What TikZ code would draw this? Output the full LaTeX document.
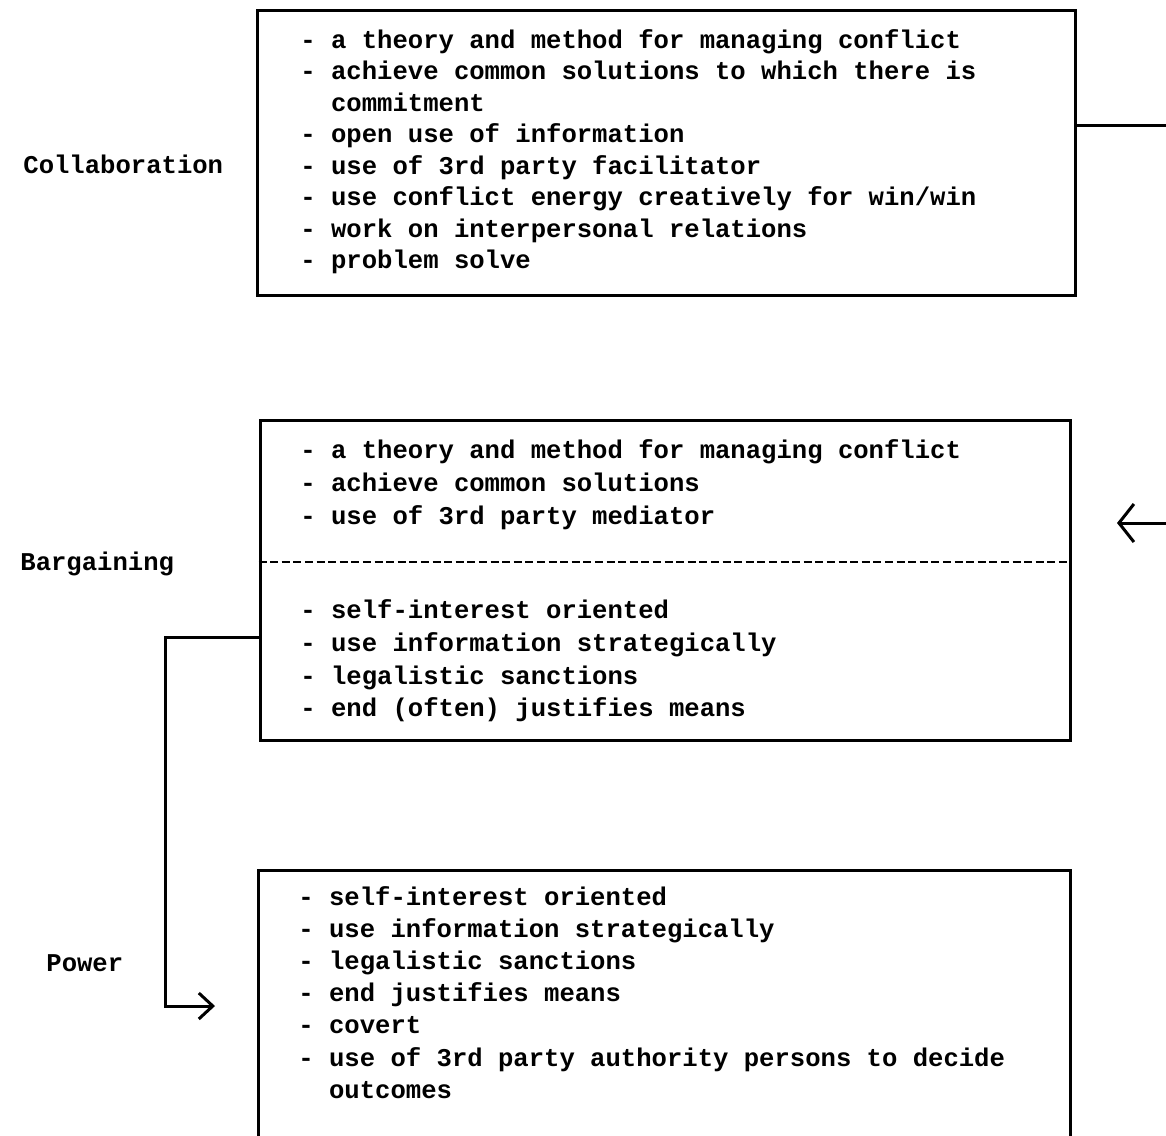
\documentclass[tikz,border=0pt]{standalone}
\usepackage{fontspec}
\setmainfont{Liberation Mono}
\usetikzlibrary{arrows.meta}
\begin{document}
\begin{tikzpicture}[x=0.5pt,y=-0.5pt,
  box/.style={draw, line width=1.5pt, rectangle, inner sep=0pt},
  conn/.style={line width=1.5pt},
  txt/.style={anchor=base west, inner sep=0pt, font=\bfseries\fontsize{12.8}{15}\selectfont},
  lbl/.style={anchor=base west, inner sep=0pt, font=\bfseries\fontsize{12.8}{15}\selectfont}]
\useasboundingbox[fill=white] (0,0) rectangle (1166,1135);

% boxes
\node[box, minimum width=409pt, minimum height=142.5pt] (b1) at (666,152.5) {};
\node[box, minimum width=405pt, minimum height=160pt] (b2) at (665,580) {};
\coordinate (b3nw) at (258,870);
\coordinate (b3ne) at (1070,870);
\coordinate (b3sw) at (258,1150);
\coordinate (b3se) at (1070,1150);
\draw[line width=1.5pt] (b3sw) -- (b3nw) -- (b3ne) -- (b3se);
\draw[line width=1pt, dash pattern=on 4pt off 1.8pt] (b2.west |- 0,562) -- (b2.east |- 0,562);

% labels
\node[lbl] (lc) at (23,173) {Collaboration};
\node[lbl] (lb) at (20,570) {Bargaining};
\node[lbl] (lp) at (46,971) {Power};

% box 1 text
\node[txt] (t11) at (300,48) {- a theory and method for managing conflict};
\node[txt] (t12) at (300,79.5) {- achieve common solutions to which there is};
\node[txt] (t13) at (300,111) {\ \ commitment};
\node[txt] (t14) at (300,142.5) {- open use of information};
\node[txt] (t15) at (300,174) {- use of 3rd party facilitator};
\node[txt] (t16) at (300,205.5) {- use conflict energy creatively for win/win};
\node[txt] (t17) at (300,237) {- work on interpersonal relations};
\node[txt] (t18) at (300,268.5) {- problem solve};

% box 2 text
\node[txt] (t21) at (300,458) {- a theory and method for managing conflict};
\node[txt] (t22) at (300,491) {- achieve common solutions};
\node[txt] (t23) at (300,524) {- use of 3rd party mediator};
\node[txt] (t24) at (300,618) {- self-interest oriented};
\node[txt] (t25) at (300,651) {- use information strategically};
\node[txt] (t26) at (300,684) {- legalistic sanctions};
\node[txt] (t27) at (300,716) {- end (often) justifies means};

% box 3 text
\node[txt] (t31) at (298,905) {- self-interest oriented};
\node[txt] (t32) at (298,937) {- use information strategically};
\node[txt] (t33) at (298,969) {- legalistic sanctions};
\node[txt] (t34) at (298,1001) {- end justifies means};
\node[txt] (t35) at (298,1033) {- covert};
\node[txt] (t36) at (298,1066) {- use of 3rd party authority persons to decide};
\node[txt] (t37) at (298,1098) {\ \ outcomes};

% connectors
\coordinate (r1) at (1166,125);
\draw[conn] (b1.east |- r1) -- (r1);

\coordinate (r2) at (1166,523);
\coordinate (r2tip) at (1117,523);
\draw[conn, -{Straight Barb[length=7.5pt,width=19pt,line width=1.5pt]}] (r2) -- (r2tip);

\coordinate (elb) at (165,637);
\coordinate (tip3) at (215,1006);
\draw[conn, -{Straight Barb[length=7pt,width=13pt,line width=1.5pt]}] (b2.west |- elb) -- (elb) |- (tip3);
\end{tikzpicture}
\end{document}
